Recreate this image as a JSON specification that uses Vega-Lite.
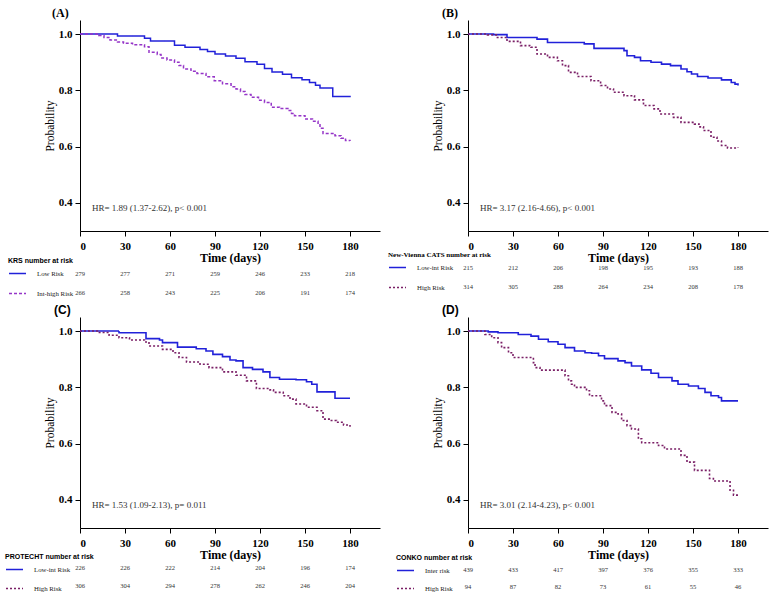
{
"$schema": "https://vega.github.io/schema/vega-lite/v6.json",
"background": "white",
"padding": {"left": 5, "top": 7, "right": 5, "bottom": 5},
"config": {
  "view": {"stroke": null},
  "font": "Liberation Serif",
  "axis": {"grid": false, "domainColor": "black", "tickColor": "black", "labelColor": "black", "titleColor": "black", "labelFont": "Liberation Serif", "titleFont": "Liberation Serif", "labelFontWeight": "bold", "labelFontSize": 11, "tickSize": 5},
  "axisX": {"labelPadding": 4, "titleFontSize": 12, "titleFontWeight": "bold", "titlePadding": 1, "labelAngle": 0},
  "axisY": {"labelPadding": 3, "titleFontSize": 11.5, "titleFontWeight": "normal", "titlePadding": 3},
  "legend": {"orient": "none", "symbolType": "stroke", "symbolSize": 289, "symbolStrokeWidth": 1.5, "labelFont": "Liberation Serif", "labelFontSize": 6.8, "labelColor": "#222", "labelOffset": 10, "titleFontSize": 7, "titleFontWeight": "bold", "titleColor": "black", "titlePadding": 0, "titleLimit": 300}
},
"datasets": {
"kmA": [
{"group":"Low Risk","time":0,"surv":1.0},{"group":"Low Risk","time":25,"surv":0.993},{"group":"Low Risk","time":43,"surv":0.985},{"group":"Low Risk","time":47,"surv":0.975},{"group":"Low Risk","time":63,"surv":0.96},{"group":"Low Risk","time":70,"surv":0.953},{"group":"Low Risk","time":80,"surv":0.945},{"group":"Low Risk","time":85,"surv":0.938},{"group":"Low Risk","time":90,"surv":0.929},{"group":"Low Risk","time":97,"surv":0.922},{"group":"Low Risk","time":104,"surv":0.914},{"group":"Low Risk","time":110,"surv":0.902},{"group":"Low Risk","time":118,"surv":0.893},{"group":"Low Risk","time":123,"surv":0.878},{"group":"Low Risk","time":128,"surv":0.865},{"group":"Low Risk","time":135,"surv":0.857},{"group":"Low Risk","time":141,"surv":0.845},{"group":"Low Risk","time":148,"surv":0.838},{"group":"Low Risk","time":153,"surv":0.828},{"group":"Low Risk","time":157,"surv":0.818},{"group":"Low Risk","time":160,"surv":0.808},{"group":"Low Risk","time":168.5,"surv":0.778},{"group":"Low Risk","time":180,"surv":0.775},
{"group":"Int-high Risk","time":0,"surv":1.0},{"group":"Int-high Risk","time":12.5,"surv":0.995},{"group":"Int-high Risk","time":16,"surv":0.988},{"group":"Int-high Risk","time":20,"surv":0.979},{"group":"Int-high Risk","time":25,"surv":0.972},{"group":"Int-high Risk","time":29,"surv":0.967},{"group":"Int-high Risk","time":35,"surv":0.962},{"group":"Int-high Risk","time":43,"surv":0.955},{"group":"Int-high Risk","time":46,"surv":0.935},{"group":"Int-high Risk","time":51.5,"surv":0.927},{"group":"Int-high Risk","time":54,"surv":0.915},{"group":"Int-high Risk","time":58,"surv":0.908},{"group":"Int-high Risk","time":63,"surv":0.9},{"group":"Int-high Risk","time":66,"surv":0.888},{"group":"Int-high Risk","time":69,"surv":0.876},{"group":"Int-high Risk","time":74,"surv":0.868},{"group":"Int-high Risk","time":78,"surv":0.86},{"group":"Int-high Risk","time":84,"surv":0.848},{"group":"Int-high Risk","time":89.5,"surv":0.834},{"group":"Int-high Risk","time":95,"surv":0.823},{"group":"Int-high Risk","time":100.7,"surv":0.813},{"group":"Int-high Risk","time":104,"surv":0.805},{"group":"Int-high Risk","time":107,"surv":0.796},{"group":"Int-high Risk","time":110,"surv":0.785},{"group":"Int-high Risk","time":114,"surv":0.775},{"group":"Int-high Risk","time":119,"surv":0.765},{"group":"Int-high Risk","time":123,"surv":0.757},{"group":"Int-high Risk","time":127.5,"surv":0.74},{"group":"Int-high Risk","time":133,"surv":0.735},{"group":"Int-high Risk","time":138.6,"surv":0.728},{"group":"Int-high Risk","time":141,"surv":0.718},{"group":"Int-high Risk","time":143,"surv":0.71},{"group":"Int-high Risk","time":150,"surv":0.698},{"group":"Int-high Risk","time":155,"surv":0.69},{"group":"Int-high Risk","time":158.7,"surv":0.683},{"group":"Int-high Risk","time":160,"surv":0.665},{"group":"Int-high Risk","time":162,"surv":0.647},{"group":"Int-high Risk","time":170,"surv":0.639},{"group":"Int-high Risk","time":174,"surv":0.63},{"group":"Int-high Risk","time":177,"surv":0.622},{"group":"Int-high Risk","time":180,"surv":0.62}
],
"kmB": [
{"group":"Low-int Risk","time":0,"surv":1.0},{"group":"Low-int Risk","time":17,"surv":0.998},{"group":"Low-int Risk","time":26,"surv":0.988},{"group":"Low-int Risk","time":46,"surv":0.982},{"group":"Low-int Risk","time":53,"surv":0.97},{"group":"Low-int Risk","time":77.5,"surv":0.965},{"group":"Low-int Risk","time":84,"surv":0.949},{"group":"Low-int Risk","time":104,"surv":0.941},{"group":"Low-int Risk","time":106,"surv":0.923},{"group":"Low-int Risk","time":111,"surv":0.917},{"group":"Low-int Risk","time":115,"surv":0.905},{"group":"Low-int Risk","time":122,"surv":0.9},{"group":"Low-int Risk","time":129,"surv":0.893},{"group":"Low-int Risk","time":135,"surv":0.888},{"group":"Low-int Risk","time":142,"surv":0.876},{"group":"Low-int Risk","time":146,"surv":0.866},{"group":"Low-int Risk","time":149,"surv":0.858},{"group":"Low-int Risk","time":153,"surv":0.849},{"group":"Low-int Risk","time":160,"surv":0.844},{"group":"Low-int Risk","time":169,"surv":0.837},{"group":"Low-int Risk","time":175.5,"surv":0.828},{"group":"Low-int Risk","time":178,"surv":0.822},{"group":"Low-int Risk","time":180,"surv":0.817},
{"group":"High Risk","time":0,"surv":1.0},{"group":"High Risk","time":13,"surv":0.997},{"group":"High Risk","time":19.6,"surv":0.988},{"group":"High Risk","time":26,"surv":0.974},{"group":"High Risk","time":35,"surv":0.959},{"group":"High Risk","time":42,"surv":0.953},{"group":"High Risk","time":46,"surv":0.929},{"group":"High Risk","time":53,"surv":0.917},{"group":"High Risk","time":59.6,"surv":0.905},{"group":"High Risk","time":63,"surv":0.888},{"group":"High Risk","time":67,"surv":0.864},{"group":"High Risk","time":73,"surv":0.849},{"group":"High Risk","time":82,"surv":0.834},{"group":"High Risk","time":88.4,"surv":0.817},{"group":"High Risk","time":93,"surv":0.805},{"group":"High Risk","time":97,"surv":0.793},{"group":"High Risk","time":104,"surv":0.781},{"group":"High Risk","time":111,"surv":0.766},{"group":"High Risk","time":117,"surv":0.746},{"group":"High Risk","time":124,"surv":0.734},{"group":"High Risk","time":128,"surv":0.716},{"group":"High Risk","time":137,"surv":0.704},{"group":"High Risk","time":142,"surv":0.686},{"group":"High Risk","time":151,"surv":0.68},{"group":"High Risk","time":154,"surv":0.67},{"group":"High Risk","time":157,"surv":0.657},{"group":"High Risk","time":162,"surv":0.633},{"group":"High Risk","time":166,"surv":0.62},{"group":"High Risk","time":169,"surv":0.604},{"group":"High Risk","time":173,"surv":0.595},{"group":"High Risk","time":180,"surv":0.597}
],
"kmC": [
{"group":"Low-int Risk","time":0,"surv":1.0},{"group":"Low-int Risk","time":26,"surv":0.994},{"group":"Low-int Risk","time":44,"surv":0.973},{"group":"Low-int Risk","time":53,"surv":0.968},{"group":"Low-int Risk","time":55,"surv":0.959},{"group":"Low-int Risk","time":65,"surv":0.943},{"group":"Low-int Risk","time":77.5,"surv":0.937},{"group":"Low-int Risk","time":84,"surv":0.929},{"group":"Low-int Risk","time":88.6,"surv":0.917},{"group":"Low-int Risk","time":95,"surv":0.909},{"group":"Low-int Risk","time":100,"surv":0.897},{"group":"Low-int Risk","time":104,"surv":0.894},{"group":"Low-int Risk","time":108.7,"surv":0.87},{"group":"Low-int Risk","time":115,"surv":0.864},{"group":"Low-int Risk","time":122,"surv":0.855},{"group":"Low-int Risk","time":126.6,"surv":0.835},{"group":"Low-int Risk","time":133,"surv":0.829},{"group":"Low-int Risk","time":144,"surv":0.827},{"group":"Low-int Risk","time":151,"surv":0.82},{"group":"Low-int Risk","time":154.5,"surv":0.811},{"group":"Low-int Risk","time":158,"surv":0.784},{"group":"Low-int Risk","time":170,"surv":0.761},{"group":"Low-int Risk","time":180,"surv":0.761},
{"group":"High Risk","time":0,"surv":1.0},{"group":"High Risk","time":11.6,"surv":0.995},{"group":"High Risk","time":19.4,"surv":0.985},{"group":"High Risk","time":26,"surv":0.976},{"group":"High Risk","time":33,"surv":0.968},{"group":"High Risk","time":43,"surv":0.961},{"group":"High Risk","time":46,"surv":0.947},{"group":"High Risk","time":55,"surv":0.935},{"group":"High Risk","time":62,"surv":0.923},{"group":"High Risk","time":66,"surv":0.906},{"group":"High Risk","time":71,"surv":0.89},{"group":"High Risk","time":80,"surv":0.882},{"group":"High Risk","time":86,"surv":0.87},{"group":"High Risk","time":95,"surv":0.855},{"group":"High Risk","time":104,"surv":0.843},{"group":"High Risk","time":111,"surv":0.823},{"group":"High Risk","time":117.6,"surv":0.796},{"group":"High Risk","time":126.6,"surv":0.791},{"group":"High Risk","time":129,"surv":0.782},{"group":"High Risk","time":135.5,"surv":0.77},{"group":"High Risk","time":140,"surv":0.758},{"group":"High Risk","time":144,"surv":0.741},{"group":"High Risk","time":151,"surv":0.729},{"group":"High Risk","time":158,"surv":0.717},{"group":"High Risk","time":162,"surv":0.687},{"group":"High Risk","time":167,"surv":0.682},{"group":"High Risk","time":171,"surv":0.676},{"group":"High Risk","time":175.7,"surv":0.666},{"group":"High Risk","time":180,"surv":0.66}
],
"kmD": [
{"group":"Inter risk","time":0,"surv":1.0},{"group":"Inter risk","time":13.5,"surv":0.997},{"group":"Inter risk","time":20,"surv":0.994},{"group":"Inter risk","time":33.5,"surv":0.988},{"group":"Inter risk","time":42,"surv":0.982},{"group":"Inter risk","time":47,"surv":0.971},{"group":"Inter risk","time":53.5,"surv":0.962},{"group":"Inter risk","time":60,"surv":0.953},{"group":"Inter risk","time":64.7,"surv":0.941},{"group":"Inter risk","time":71,"surv":0.929},{"group":"Inter risk","time":78,"surv":0.923},{"group":"Inter risk","time":82.4,"surv":0.921},{"group":"Inter risk","time":87,"surv":0.912},{"group":"Inter risk","time":91,"surv":0.902},{"group":"Inter risk","time":100,"surv":0.894},{"group":"Inter risk","time":104.7,"surv":0.888},{"group":"Inter risk","time":109,"surv":0.876},{"group":"Inter risk","time":115.8,"surv":0.862},{"group":"Inter risk","time":122,"surv":0.85},{"group":"Inter risk","time":127,"surv":0.835},{"group":"Inter risk","time":136,"surv":0.823},{"group":"Inter risk","time":140,"surv":0.811},{"group":"Inter risk","time":147,"surv":0.805},{"group":"Inter risk","time":153.6,"surv":0.796},{"group":"Inter risk","time":158,"surv":0.782},{"group":"Inter risk","time":162,"surv":0.77},{"group":"Inter risk","time":167,"surv":0.764},{"group":"Inter risk","time":169,"surv":0.752},{"group":"Inter risk","time":180,"surv":0.752},
{"group":"High Risk","time":0,"surv":1.0},{"group":"High Risk","time":11.3,"surv":0.988},{"group":"High Risk","time":15.8,"surv":0.976},{"group":"High Risk","time":20,"surv":0.959},{"group":"High Risk","time":22.4,"surv":0.941},{"group":"High Risk","time":27,"surv":0.923},{"group":"High Risk","time":30,"surv":0.906},{"group":"High Risk","time":43.6,"surv":0.888},{"group":"High Risk","time":44.7,"surv":0.87},{"group":"High Risk","time":48,"surv":0.861},{"group":"High Risk","time":64.7,"surv":0.841},{"group":"High Risk","time":67,"surv":0.823},{"group":"High Risk","time":69,"surv":0.811},{"group":"High Risk","time":71,"surv":0.8},{"group":"High Risk","time":79,"surv":0.788},{"group":"High Risk","time":81,"surv":0.77},{"group":"High Risk","time":89,"surv":0.752},{"group":"High Risk","time":91,"surv":0.735},{"group":"High Risk","time":96,"surv":0.711},{"group":"High Risk","time":100,"surv":0.705},{"group":"High Risk","time":102.4,"surv":0.682},{"group":"High Risk","time":106,"surv":0.664},{"group":"High Risk","time":109,"surv":0.652},{"group":"High Risk","time":113.6,"surv":0.617},{"group":"High Risk","time":115.8,"surv":0.603},{"group":"High Risk","time":127,"surv":0.593},{"group":"High Risk","time":131,"surv":0.581},{"group":"High Risk","time":142,"surv":0.558},{"group":"High Risk","time":146,"surv":0.534},{"group":"High Risk","time":151,"surv":0.505},{"group":"High Risk","time":161,"surv":0.476},{"group":"High Risk","time":163.6,"surv":0.467},{"group":"High Risk","time":174.7,"surv":0.434},{"group":"High Risk","time":177,"surv":0.417},{"group":"High Risk","time":180,"surv":0.417}
],
"riskA": [
{"group":"Low Risk","time":0,"n":279},{"group":"Low Risk","time":30,"n":277},{"group":"Low Risk","time":60,"n":271},{"group":"Low Risk","time":90,"n":259},{"group":"Low Risk","time":120,"n":246},{"group":"Low Risk","time":150,"n":233},{"group":"Low Risk","time":180,"n":218},
{"group":"Int-high Risk","time":0,"n":266},{"group":"Int-high Risk","time":30,"n":258},{"group":"Int-high Risk","time":60,"n":243},{"group":"Int-high Risk","time":90,"n":225},{"group":"Int-high Risk","time":120,"n":206},{"group":"Int-high Risk","time":150,"n":191},{"group":"Int-high Risk","time":180,"n":174}
],
"riskB": [
{"group":"Low-int Risk","time":0,"n":215},{"group":"Low-int Risk","time":30,"n":212},{"group":"Low-int Risk","time":60,"n":206},{"group":"Low-int Risk","time":90,"n":198},{"group":"Low-int Risk","time":120,"n":195},{"group":"Low-int Risk","time":150,"n":193},{"group":"Low-int Risk","time":180,"n":188},
{"group":"High Risk","time":0,"n":314},{"group":"High Risk","time":30,"n":305},{"group":"High Risk","time":60,"n":288},{"group":"High Risk","time":90,"n":264},{"group":"High Risk","time":120,"n":234},{"group":"High Risk","time":150,"n":208},{"group":"High Risk","time":180,"n":178}
],
"riskC": [
{"group":"Low-int Risk","time":0,"n":226},{"group":"Low-int Risk","time":30,"n":226},{"group":"Low-int Risk","time":60,"n":222},{"group":"Low-int Risk","time":90,"n":214},{"group":"Low-int Risk","time":120,"n":204},{"group":"Low-int Risk","time":150,"n":196},{"group":"Low-int Risk","time":180,"n":174},
{"group":"High Risk","time":0,"n":306},{"group":"High Risk","time":30,"n":304},{"group":"High Risk","time":60,"n":294},{"group":"High Risk","time":90,"n":278},{"group":"High Risk","time":120,"n":262},{"group":"High Risk","time":150,"n":246},{"group":"High Risk","time":180,"n":204}
],
"riskD": [
{"group":"Inter risk","time":0,"n":439},{"group":"Inter risk","time":30,"n":433},{"group":"Inter risk","time":60,"n":417},{"group":"Inter risk","time":90,"n":397},{"group":"Inter risk","time":120,"n":376},{"group":"Inter risk","time":150,"n":355},{"group":"Inter risk","time":180,"n":333},
{"group":"High Risk","time":0,"n":94},{"group":"High Risk","time":30,"n":87},{"group":"High Risk","time":60,"n":82},{"group":"High Risk","time":90,"n":73},{"group":"High Risk","time":120,"n":61},{"group":"High Risk","time":150,"n":55},{"group":"High Risk","time":180,"n":46}
]
},
"columns": 2,
"spacing": {"row": 86, "column": 88},
"bounds": "flush",
"resolve": {"scale": {"x": "independent", "y": "independent", "color": "independent", "strokeDash": "independent"}},
"concat": [
{
 "width": 300, "height": 211,
 "title": {"text": "(A)", "anchor": "start", "frame": "group", "dx": -28, "offset": 0, "fontSize": 12, "font": "Liberation Serif", "fontWeight": "bold", "color": "black"},
 "resolve": {"scale": {"y": "independent"}},
 "layer": [
  {"layer": [
   {"data": {"name": "kmA"}, "mark": {"type": "line", "interpolate": "step-after", "strokeWidth": 1.5},
    "encoding": {
     "x": {"field": "time", "type": "quantitative", "scale": {"domain": [0, 200], "nice": false}, "axis": {"values": [0, 30, 60, 90, 120, 150, 180], "title": "Time (days)"}},
     "y": {"field": "surv", "type": "quantitative", "scale": {"domain": [0.3, 1.05], "nice": false, "zero": false}, "axis": {"values": [0.4, 0.6, 0.8, 1.0], "format": ".1f", "title": "Probability"}},
     "color": {"field": "group", "type": "nominal", "scale": {"domain": ["Low Risk", "Int-high Risk"], "range": ["#2121d9", "#9535c8"]}, "legend": {"title": "KRS number at risk", "titleFont": "Liberation Sans", "legendX": -72, "legendY": 237, "rowPadding": 6}},
     "strokeDash": {"field": "group", "type": "nominal", "scale": {"domain": ["Low Risk", "Int-high Risk"], "range": [[1, 0], [3, 2]]}, "legend": {"title": "KRS number at risk", "titleFont": "Liberation Sans", "legendX": -72, "legendY": 237, "rowPadding": 6}}
    }},
   {"data": {"values": [{"label": "HR= 1.89 (1.37-2.62), p< 0.001"}]}, "mark": {"type": "text", "align": "left", "baseline": "middle", "fontSize": 9, "font": "Liberation Serif", "color": "#333"},
    "encoding": {"x": {"datum": 8, "type": "quantitative"}, "y": {"datum": 0.38, "type": "quantitative"}, "text": {"field": "label"}}}
  ]},
  {"data": {"name": "riskA"}, "mark": {"type": "text", "fontSize": 6.5, "font": "Liberation Serif", "color": "#333", "baseline": "middle"},
   "encoding": {"x": {"field": "time", "type": "quantitative"}, "y": {"field": "group", "type": "nominal", "scale": {"type": "point", "domain": ["Low Risk", "Int-high Risk"], "range": [254, 273], "padding": 0}, "axis": null}, "text": {"field": "n"}}}
 ]
},
{
 "width": 300, "height": 211,
 "title": {"text": "(B)", "anchor": "start", "frame": "group", "dx": -26, "offset": 0, "fontSize": 12, "font": "Liberation Serif", "fontWeight": "bold", "color": "black"},
 "resolve": {"scale": {"y": "independent"}},
 "layer": [
  {"layer": [
   {"data": {"name": "kmB"}, "mark": {"type": "line", "interpolate": "step-after", "strokeWidth": 1.6},
    "encoding": {
     "x": {"field": "time", "type": "quantitative", "scale": {"domain": [0, 200], "nice": false}, "axis": {"values": [0, 30, 60, 90, 120, 150, 180], "title": "Time (days)"}},
     "y": {"field": "surv", "type": "quantitative", "scale": {"domain": [0.3, 1.05], "nice": false, "zero": false}, "axis": {"values": [0.4, 0.6, 0.8, 1.0], "format": ".1f", "title": "Probability"}},
     "color": {"field": "group", "type": "nominal", "scale": {"domain": ["Low-int Risk", "High Risk"], "range": ["#2121d9", "#7a1f66"]}, "legend": {"title": "New-Vienna CATS  number at risk", "titleFont": "Liberation Serif", "legendX": -80, "legendY": 231, "rowPadding": 6}},
     "strokeDash": {"field": "group", "type": "nominal", "scale": {"domain": ["Low-int Risk", "High Risk"], "range": [[1, 0], [2, 2]]}, "legend": {"title": "New-Vienna CATS  number at risk", "titleFont": "Liberation Serif", "legendX": -80, "legendY": 231, "rowPadding": 6}}
    }},
   {"data": {"values": [{"label": "HR= 3.17 (2.16-4.66), p< 0.001"}]}, "mark": {"type": "text", "align": "left", "baseline": "middle", "fontSize": 9, "font": "Liberation Serif", "color": "#333"},
    "encoding": {"x": {"datum": 8, "type": "quantitative"}, "y": {"datum": 0.38, "type": "quantitative"}, "text": {"field": "label"}}}
  ]},
  {"data": {"name": "riskB"}, "mark": {"type": "text", "fontSize": 6.5, "font": "Liberation Serif", "color": "#333", "baseline": "middle"},
   "encoding": {"x": {"field": "time", "type": "quantitative"}, "y": {"field": "group", "type": "nominal", "scale": {"type": "point", "domain": ["Low-int Risk", "High Risk"], "range": [248, 267], "padding": 0}, "axis": null}, "text": {"field": "n"}}}
 ]
},
{
 "width": 300, "height": 211,
 "title": {"text": "(C)", "anchor": "start", "frame": "group", "dx": -26, "offset": 0, "fontSize": 12, "font": "Liberation Sans", "fontWeight": "bold", "color": "black"},
 "resolve": {"scale": {"y": "independent"}},
 "layer": [
  {"layer": [
   {"data": {"name": "kmC"}, "mark": {"type": "line", "interpolate": "step-after", "strokeWidth": 1.6},
    "encoding": {
     "x": {"field": "time", "type": "quantitative", "scale": {"domain": [0, 200], "nice": false}, "axis": {"values": [0, 30, 60, 90, 120, 150, 180], "title": "Time (days)"}},
     "y": {"field": "surv", "type": "quantitative", "scale": {"domain": [0.3, 1.05], "nice": false, "zero": false}, "axis": {"values": [0.4, 0.6, 0.8, 1.0], "format": ".1f", "title": "Probability"}},
     "color": {"field": "group", "type": "nominal", "scale": {"domain": ["Low-int Risk", "High Risk"], "range": ["#2121d9", "#7a1f66"]}, "legend": {"title": "PROTECHT number at risk", "titleFont": "Liberation Sans", "legendX": -75, "legendY": 236, "rowPadding": 5}},
     "strokeDash": {"field": "group", "type": "nominal", "scale": {"domain": ["Low-int Risk", "High Risk"], "range": [[1, 0], [2, 2]]}, "legend": {"title": "PROTECHT number at risk", "titleFont": "Liberation Sans", "legendX": -75, "legendY": 236, "rowPadding": 5}}
    }},
   {"data": {"values": [{"label": "HR= 1.53 (1.09-2.13), p= 0.011"}]}, "mark": {"type": "text", "align": "left", "baseline": "middle", "fontSize": 9, "font": "Liberation Serif", "color": "#333"},
    "encoding": {"x": {"datum": 8, "type": "quantitative"}, "y": {"datum": 0.38, "type": "quantitative"}, "text": {"field": "label"}}}
  ]},
  {"data": {"name": "riskC"}, "mark": {"type": "text", "fontSize": 6.5, "font": "Liberation Serif", "color": "#333", "baseline": "middle"},
   "encoding": {"x": {"field": "time", "type": "quantitative"}, "y": {"field": "group", "type": "nominal", "scale": {"type": "point", "domain": ["Low-int Risk", "High Risk"], "range": [251, 269], "padding": 0}, "axis": null}, "text": {"field": "n"}}}
 ]
},
{
 "width": 300, "height": 211,
 "title": {"text": "(D)", "anchor": "start", "frame": "group", "dx": -26, "offset": 0, "fontSize": 12, "font": "Liberation Sans", "fontWeight": "bold", "color": "black"},
 "resolve": {"scale": {"y": "independent"}},
 "layer": [
  {"layer": [
   {"data": {"name": "kmD"}, "mark": {"type": "line", "interpolate": "step-after", "strokeWidth": 1.6},
    "encoding": {
     "x": {"field": "time", "type": "quantitative", "scale": {"domain": [0, 200], "nice": false}, "axis": {"values": [0, 30, 60, 90, 120, 150, 180], "title": "Time (days)"}},
     "y": {"field": "surv", "type": "quantitative", "scale": {"domain": [0.3, 1.05], "nice": false, "zero": false}, "axis": {"values": [0.4, 0.6, 0.8, 1.0], "format": ".1f", "title": "Probability"}},
     "color": {"field": "group", "type": "nominal", "scale": {"domain": ["Inter risk", "High Risk"], "range": ["#2121d9", "#7a1f66"]}, "legend": {"title": "CONKO number at risk", "titleFont": "Liberation Sans", "legendX": -72, "legendY": 237, "rowPadding": 4}},
     "strokeDash": {"field": "group", "type": "nominal", "scale": {"domain": ["Inter risk", "High Risk"], "range": [[1, 0], [2, 2]]}, "legend": {"title": "CONKO number at risk", "titleFont": "Liberation Sans", "legendX": -72, "legendY": 237, "rowPadding": 4}}
    }},
   {"data": {"values": [{"label": "HR= 3.01 (2.14-4.23), p< 0.001"}]}, "mark": {"type": "text", "align": "left", "baseline": "middle", "fontSize": 9, "font": "Liberation Serif", "color": "#333"},
    "encoding": {"x": {"datum": 8, "type": "quantitative"}, "y": {"datum": 0.38, "type": "quantitative"}, "text": {"field": "label"}}}
  ]},
  {"data": {"name": "riskD"}, "mark": {"type": "text", "fontSize": 6.5, "font": "Liberation Serif", "color": "#333", "baseline": "middle"},
   "encoding": {"x": {"field": "time", "type": "quantitative"}, "y": {"field": "group", "type": "nominal", "scale": {"type": "point", "domain": ["Inter risk", "High Risk"], "range": [253, 270], "padding": 0}, "axis": null}, "text": {"field": "n"}}}
 ]
}
]
}
